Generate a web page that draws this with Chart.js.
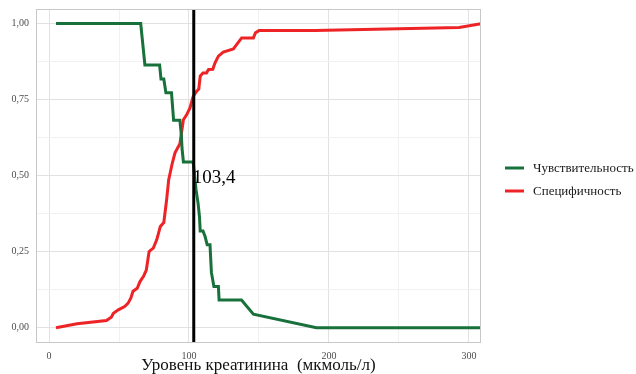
<!DOCTYPE html>
<html>
<head>
<meta charset="utf-8">
<script src="https://cdn.jsdelivr.net/npm/chart.js@4/dist/chart.umd.min.js"></script>
<style>
html,body{margin:0;padding:0;background:#fff;}
#wrap{width:636px;height:374px;position:relative;}
</style>
</head>
<body>
<div id="wrap"><canvas id="c" width="636" height="374"></canvas></div>
<script>
// ---- data ----
const seriesNames = ["Чувствительность", "Специфичность"];
const sensX = [5, 65.5, 66.5, 68.5, 79, 80, 82, 83.5, 87.5, 89, 93.5, 94.5, 95, 96, 103, 104, 105, 106.5, 107.5, 108, 110, 111.5, 113, 115, 116, 117.8, 121, 121.5, 137.5, 146, 191, 308.6];
const sensY = [1, 1, 0.955, 0.864, 0.864, 0.818, 0.818, 0.773, 0.773, 0.682, 0.682, 0.636, 0.591, 0.545, 0.545, 0.5, 0.455, 0.409, 0.364, 0.318, 0.318, 0.3, 0.273, 0.273, 0.182, 0.136, 0.136, 0.091, 0.091, 0.045, 0, 0];
const specX = [5, 20, 41, 44.5, 46, 49.5, 54, 56.5, 58.5, 60, 63, 65, 67.5, 69.5, 71.5, 74.5, 77, 79.5, 82, 84, 85.5, 88, 90, 93.5, 96, 98.3, 100.7, 103, 105.5, 107, 108, 110, 112.5, 114, 117, 118.6, 121, 124.5, 131.7, 134, 137.6, 146, 147.5, 150, 190, 293, 308.6];
const specY = [0, 0.013, 0.024, 0.035, 0.048, 0.059, 0.07, 0.081, 0.098, 0.12, 0.13, 0.152, 0.169, 0.19, 0.251, 0.262, 0.29, 0.333, 0.346, 0.42, 0.487, 0.54, 0.575, 0.605, 0.684, 0.70, 0.723, 0.761, 0.778, 0.785, 0.827, 0.838, 0.838, 0.849, 0.85, 0.871, 0.893, 0.906, 0.917, 0.931, 0.953, 0.953, 0.97, 0.977, 0.977, 0.987, 1.0];
const cutoff = 103.4;
const cutoffLabel = "103,4";
const xTicks = [0, 50, 100, 150, 200, 250, 300];
const yTicks = [0, 0.125, 0.25, 0.375, 0.5, 0.625, 0.75, 0.875, 1.0];
const xTitle = "Уровень креатинина  (мкмоль/л)";

const GREEN = "#18703b";
const RED = "#ee2326";
const SERIF = "'Liberation Serif', 'DejaVu Serif', serif";

function pts(xs, ys) { return xs.map((x, i) => ({ x: x, y: ys[i] })); }

const overlay = {
  id: 'overlay',
  afterDatasetsDraw(chart) {
    const ctx = chart.ctx, a = chart.chartArea;
    const xs = chart.scales.x, ys = chart.scales.y;
    ctx.save();
    // cutoff vertical line
    const px = xs.getPixelForValue(cutoff);
    ctx.strokeStyle = '#000';
    ctx.lineWidth = 3;
    ctx.beginPath();
    ctx.moveTo(px, a.top);
    ctx.lineTo(px, a.bottom);
    ctx.stroke();
    // label
    ctx.fillStyle = '#000';
    ctx.font = "19px " + SERIF;
    ctx.textAlign = 'left';
    ctx.textBaseline = 'middle';
    ctx.fillText(cutoffLabel, px - 1, ys.getPixelForValue(0.5) + 2);
    // panel border
    ctx.strokeStyle = '#c8c8c8';
    ctx.lineWidth = 1;
    ctx.strokeRect(a.left + 0.5, a.top + 0.5, a.right - a.left - 1, a.bottom - a.top - 1);
    // legend
    const colors = [GREEN, RED];
    const ly = [168, 191];
    ctx.font = "13px " + SERIF;
    ctx.textBaseline = 'middle';
    for (let i = 0; i < seriesNames.length; i++) {
      ctx.strokeStyle = colors[i];
      ctx.lineWidth = 3;
      ctx.beginPath();
      ctx.moveTo(505, ly[i]);
      ctx.lineTo(524, ly[i]);
      ctx.stroke();
      ctx.fillStyle = '#1a1a1a';
      ctx.fillText(seriesNames[i], 533, ly[i] + 1);
    }
    ctx.restore();
  }
};

new Chart(document.getElementById('c'), {
  type: 'line',
  data: {
    datasets: [
      { label: seriesNames[0], data: pts(sensX, sensY), borderColor: GREEN, backgroundColor: GREEN, borderWidth: 3, pointRadius: 0, tension: 0, fill: false },
      { label: seriesNames[1], data: pts(specX, specY), borderColor: RED, backgroundColor: RED, borderWidth: 3, pointRadius: 0, tension: 0, fill: false }
    ]
  },
  options: {
    responsive: false,
    animation: false,
    events: [],
    layout: { padding: { left: 0, right: 155, top: 9, bottom: 0 } },
    plugins: { legend: { display: false }, tooltip: { enabled: false } },
    scales: {
      x: {
        type: 'linear',
        min: -9.3,
        max: 308.6,
        afterBuildTicks(s) { s.ticks = xTicks.map(v => ({ value: v })); },
        afterFit(s) { s.height = 31; s.paddingLeft = 0; s.paddingRight = 0; },
        border: { display: false },
        grid: {
          drawTicks: false,
          color: c => (c.index % 2 === 0 ? '#e2e2e2' : '#f1f1f1'),
          lineWidth: 1
        },
        ticks: {
          padding: 7,
          color: '#4d4d4d',
          font: { family: SERIF, size: 10 },
          maxRotation: 0,
          autoSkip: false,
          callback: (v, i) => (i % 2 === 0 ? String(v) : '')
        },
        title: {
          display: true,
          text: xTitle,
          color: '#111',
          font: { family: SERIF, size: 17 },
          padding: { top: 0, bottom: -2 }
        }
      },
      y: {
        type: 'linear',
        min: -0.05,
        max: 1.048,
        afterBuildTicks(s) { s.ticks = yTicks.map(v => ({ value: v })); },
        afterFit(s) { s.width = 36; s.paddingTop = 0; s.paddingBottom = 0; },
        border: { display: false },
        grid: {
          drawTicks: false,
          color: c => (c.index % 2 === 0 ? '#e2e2e2' : '#f1f1f1'),
          lineWidth: 1
        },
        ticks: {
          padding: 7,
          color: '#4d4d4d',
          font: { family: SERIF, size: 10 },
          autoSkip: false,
          callback: (v, i) => (i % 2 === 0 ? Number(v).toFixed(2).replace('.', ',') : '')
        }
      }
    }
  },
  plugins: [overlay]
});
</script>
</body>
</html>
